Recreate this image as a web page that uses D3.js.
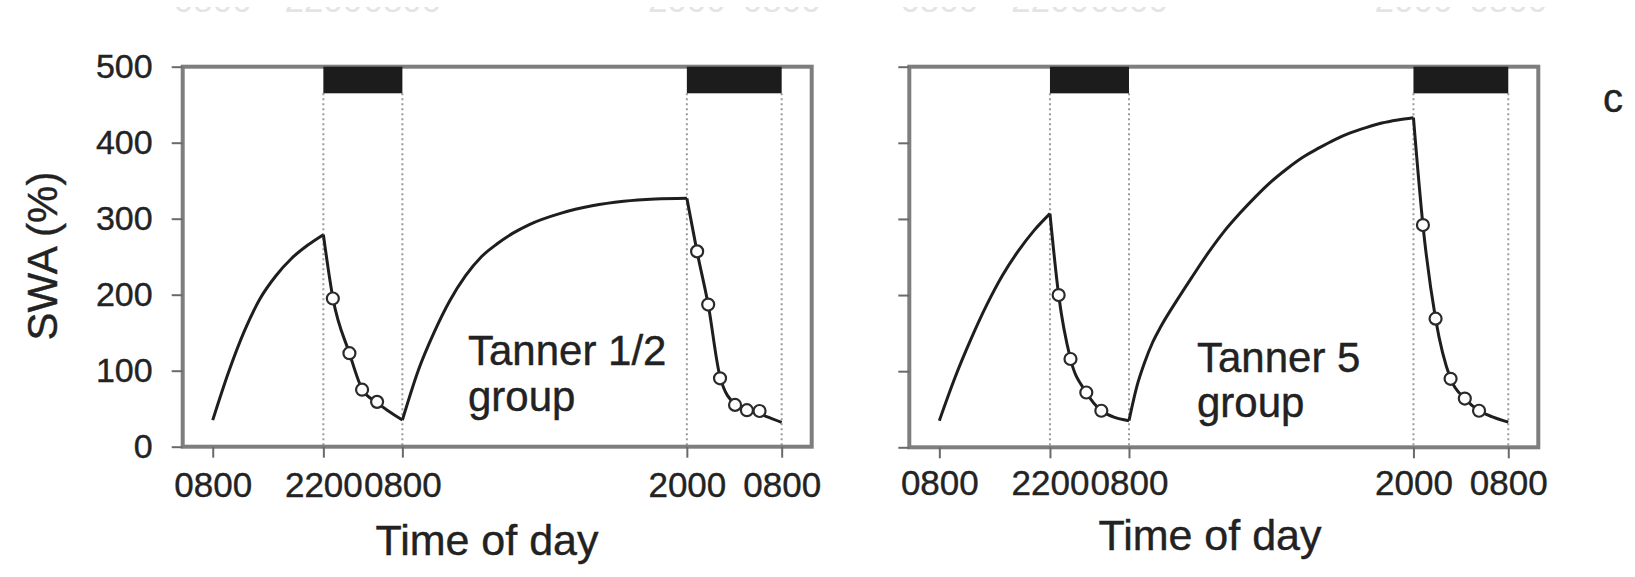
<!DOCTYPE html>
<html>
<head>
<meta charset="utf-8">
<script src="https://cdn.jsdelivr.net/npm/d3@7"></script>
<style>
  body { margin: 0; background: #fff; }
  svg { display: block; font-family: "Liberation Sans", Arial, sans-serif; }
  .axis text { fill: #232323; stroke: #232323; stroke-width: 0.4; }
  .axis line { stroke: #6a6a6a; stroke-width: 2; }
  .label { fill: #222; stroke: #222; stroke-width: 0.4; }
</style>
</head>
<body>
<div id="chart"></div>
<script>
// x values are hours since 0800 on the first day
var xTickHours = [0, 14, 24, 60, 72];
var xTickLabels = ["0800", "2200", "0800", "2000", "0800"];
var yTicks = [0, 100, 200, 300, 400, 500];
var nights = [[14, 24], [60, 72]];
var nightBarLow = 465;   // black bars run from 500 down to here

// Tanner 1/2 group: [hour, SWA %]
var t12Wake1 = [[0, 35], [2, 98], [4, 152], [6, 195], [8, 225], [10, 248], [12, 265], [14, 279]];
var t12Sleep1 = [[14, 279], [15.2, 196], [17.3, 123], [18.9, 76], [20.8, 58], [24, 35]];
var t12Wake2 = [[24, 35], [26, 100], [28, 150], [30, 192], [32, 225], [34, 250], [36, 267],
                [38, 281], [40, 292], [44, 307], [48, 317], [52, 323], [56, 326], [60, 327]];
var t12Sleep2 = [[60, 327], [61.3, 256], [62.7, 187], [64.2, 92], [66.1, 56], [68, 47], [70, 40], [72, 32]];
var t12Dots = [[15.2, 195], [17.3, 123], [18.9, 75], [20.8, 59],
               [61.3, 257], [62.7, 187], [64.2, 90], [66.1, 55], [67.6, 48], [69.2, 47]];

// Tanner 5 group
var t5Wake1 = [[0, 35], [2, 92], [4, 142], [6, 187], [8, 226], [10, 258], [12, 285], [14, 307]];
var t5Sleep1 = [[14, 307], [15.1, 200], [16.6, 116], [18.6, 72], [20.5, 48], [22, 40], [24, 35]];
var t5Wake2 = [[24, 35], [25, 80], [26, 112], [27, 138], [28, 158], [30, 192], [32, 224], [34, 255],
               [36, 283], [38, 307], [40, 329], [42, 349], [44, 366], [46, 381], [48, 393],
               [50, 404], [52, 413], [54, 420], [56, 426], [58, 430], [60, 433]];
var t5Sleep2 = [[60, 433], [61.2, 292], [62.8, 169], [64.7, 90], [66.5, 64], [68.3, 48], [70, 40], [72, 33]];
var t5Dots = [[15.1, 200], [16.6, 116], [18.6, 72], [20.5, 48],
              [61.2, 292], [62.8, 169], [64.7, 90], [66.5, 64], [68.3, 48]];

var svg = d3.select('#chart').append('svg')
  .attr('width', 1635)
  .attr('height', 577);

var top_y = 66.7;

var panels = [
  {x0: 182.7, x1: 811.7, y1: 446.7, yLabels: true, padX: 14,
   segs: [t12Wake1, t12Sleep1, t12Wake2, t12Sleep2], dots: t12Dots,
   name: ["Tanner 1/2", "group"], nameX: 468, nameY: [365, 411],
   titleX: 487, titleY: 555},
  {x0: 909.3, x1: 1538.3, y1: 447.3, yLabels: false, padX: 12,
   segs: [t5Wake1, t5Sleep1, t5Wake2, t5Sleep2], dots: t5Dots,
   name: ["Tanner 5", "group"], nameX: 1197, nameY: [372, 417],
   titleX: 1210, titleY: 550}
];

// the panel above is cropped: only the feet of its tick labels show
svg.append('clipPath').attr('id', 'topclip')
  .append('rect').attr('x', 0).attr('y', 7).attr('width', 1635).attr('height', 6);

panels.forEach(function(p) {
  var x = d3.scaleLinear().domain([-3.8, 75.8]).range([p.x0, p.x1]);
  var y = d3.scaleLinear().domain([0, 500]).range([p.y1, top_y]);
  var g = svg.append('g');

  g.append('g').attr('clip-path', 'url(#topclip)')
    .selectAll('text').data(xTickHours).enter().append('text')
    .attr('x', function(d) { return x(d); })
    .attr('y', 12)
    .attr('text-anchor', 'middle')
    .attr('font-size', 35)
    .attr('fill', '#e4e4e4')
    .text(function(d, i) { return xTickLabels[i]; });

  // dotted guides at lights off / on
  nights.forEach(function(n) {
    n.forEach(function(h) {
      g.append('line')
        .attr('x1', x(h)).attr('x2', x(h))
        .attr('y1', y(nightBarLow)).attr('y2', p.y1)
        .attr('stroke', '#9a9a9a')
        .attr('stroke-width', 2)
        .attr('stroke-dasharray', '2,3');
    });
  });

  // frame
  g.append('rect')
    .attr('x', p.x0).attr('y', top_y)
    .attr('width', p.x1 - p.x0).attr('height', p.y1 - top_y)
    .attr('fill', 'none')
    .attr('stroke', '#7e7e7e')
    .attr('stroke-width', 4);

  // night bars
  g.selectAll('.night').data(nights).enter().append('rect')
    .attr('class', 'night')
    .attr('x', function(d) { return x(d[0]); })
    .attr('y', y(500))
    .attr('width', function(d) { return x(d[1]) - x(d[0]); })
    .attr('height', y(nightBarLow) - y(500))
    .attr('fill', '#1c1c1c');

  g.append('g')
    .attr('class', 'axis')
    .attr('transform', 'translate(0,' + p.y1 + ')')
    .call(d3.axisBottom(x)
      .tickValues(xTickHours)
      .tickFormat(function(d, i) { return xTickLabels[i]; })
      .tickSize(11)
      .tickPadding(p.padX))
    .attr('font-size', 35)
    .attr('font-family', null)
    .select('.domain').remove();

  g.append('g')
    .attr('class', 'axis')
    .attr('transform', 'translate(' + p.x0 + ',0)')
    .call(d3.axisLeft(y)
      .tickValues(yTicks)
      .tickFormat(p.yLabels ? d3.format('d') : '')
      .tickSize(11)
      .tickPadding(19))
    .attr('font-size', 34)
    .attr('font-family', null)
    .select('.domain').remove();

  // SWA curves, one piece per wake / sleep period
  var line = d3.line()
    .x(function(d) { return x(d[0]); })
    .y(function(d) { return y(d[1]); })
    .curve(d3.curveMonotoneX);
  p.segs.forEach(function(s) {
    g.append('path')
      .datum(s)
      .attr('fill', 'none')
      .attr('stroke', '#1e1e1e')
      .attr('stroke-width', 3)
      .attr('stroke-linejoin', 'round')
      .attr('d', line);
  });

  g.selectAll('.dot').data(p.dots).enter().append('circle')
    .attr('class', 'dot')
    .attr('cx', function(d) { return x(d[0]); })
    .attr('cy', function(d) { return y(d[1]); })
    .attr('r', 6)
    .attr('fill', '#fff')
    .attr('stroke', '#2a2a2a')
    .attr('stroke-width', 2.2);

  p.name.forEach(function(t, i) {
    g.append('text')
      .attr('class', 'label')
      .attr('x', p.nameX).attr('y', p.nameY[i])
      .attr('font-size', 42)
      .text(t);
  });

  g.append('text')
    .attr('class', 'label')
    .attr('x', p.titleX).attr('y', p.titleY)
    .attr('text-anchor', 'middle')
    .attr('font-size', 43)
    .text('Time of day');
});

svg.append('text')
  .attr('class', 'label')
  .attr('transform', 'translate(57,256) rotate(-90)')
  .attr('text-anchor', 'middle')
  .attr('font-size', 42)
  .text('SWA (%)');

svg.append('text')
  .attr('class', 'label')
  .attr('x', 1603).attr('y', 112)
  .attr('font-size', 40)
  .text('c');
</script>
</body>
</html>
